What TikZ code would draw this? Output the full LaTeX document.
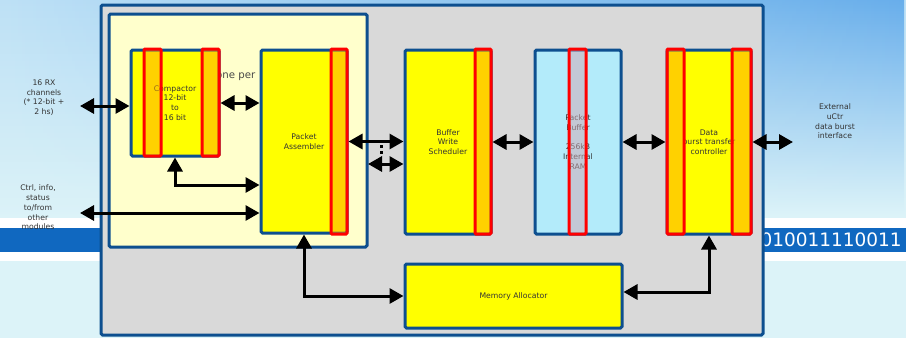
\documentclass[tikz,border=0pt]{standalone}
\usepackage{fontspec}
\setmainfont{DejaVu Sans}
\usetikzlibrary{arrows.meta,fadings}
\definecolor{bgl}{HTML}{DCF3F8}
\definecolor{bgd}{HTML}{68AEEB}
\definecolor{bgm}{HTML}{BEE1F6}
\definecolor{bandc}{HTML}{1068C0}
\definecolor{bord}{HTML}{0D4F8F}
\definecolor{grayf}{HTML}{D9D9D9}
\definecolor{pale}{HTML}{FFFFCC}
\definecolor{yel}{HTML}{FFFF00}
\definecolor{cyanf}{HTML}{B3EBFA}
\definecolor{txt}{HTML}{333333}
\definecolor{stripo}{HTML}{FFA500}
\definecolor{stripb}{HTML}{D3A7B2}
\tikzset{
  box/.style={draw=bord, line width=3pt, rounded corners=1.5pt, inner sep=0pt,
    align=center, font=\fontsize{7.7}{9.7}\selectfont, text=txt},
  ybox/.style={box, fill=yel},
  strip/.style={draw=red, line width=3pt, rounded corners=1pt, fill=stripo, fill opacity=0.5},
  dbl/.style={line width=3pt, {Triangle[length=14pt,width=15pt]}-{Triangle[length=14pt,width=15pt]}},
  lab/.style={align=center, font=\fontsize{7.7}{9.7}\selectfont, text=txt, inner sep=0pt}
}
\begin{document}
\begin{tikzpicture}[x=1pt,y=-1pt]
\useasboundingbox (0,0) rectangle (906,338);
% background
\fill[bgl] (0,0) rectangle (906,338);
\shade[top color=bgm, bottom color=bgl] (0,0) rectangle (906,215);
\shade[top color=bgd, bottom color=bgl, path fading=west] (0,0) rectangle (906,215);
% band
\fill[white] (0,218) rectangle (906,261);
\fill[bandc] (0,228) rectangle (906,252);
\node[anchor=base east, text=white, font=\fontsize{18.5}{20}\selectfont, inner sep=0pt] (bits) at (902,246) {0010011110011};
% frames
\node[box, fill=grayf, minimum width=662pt, minimum height=330pt] (outer) at (432,170) {};
\node[box, fill=pale, minimum width=258pt, minimum height=233pt] (inner) at (238,130.5) {};
\node[anchor=base west, font=\fontsize{10.2}{12}\selectfont, text=txt!90, inner sep=0pt] (oneper) at (216,78) {one per};
% blocks
\node[ybox, minimum width=88pt, minimum height=106pt] (comp) at (175,103) {Compactor\\12-bit\\to\\16 bit};
\node[ybox, minimum width=86pt, minimum height=183pt] (PA) at (304,141.5) {Packet\\Assembler};
\node[ybox, minimum width=86pt, minimum height=184pt] (BWS) at (448,142) {Buffer\\Write\\Scheduler};
\node[box, fill=cyanf, minimum width=86pt, minimum height=184pt] (PB) at (578,142) {Packet\\Buffer\\[9.7pt]256kB\\Internal\\RAM};
\node[ybox, minimum width=84pt, minimum height=184pt] (DBTC) at (709,142) {Data\\burst transfer\\controller};
\node[ybox, minimum width=217pt, minimum height=64pt] (MA) at (513.5,296) {Memory Allocator};
% strips
\draw[strip] (144,49) rectangle (161,156);
\draw[strip] (202,49) rectangle (219,156);
\draw[strip] (331,49) rectangle (347,234);
\draw[strip] (475,49) rectangle (491,234);
\draw[strip, fill=stripb] (569,49) rectangle (586,234);
\draw[strip] (667,49) rectangle (684,234);
\draw[strip] (732,49) rectangle (751,234);
% coordinates
\coordinate (rx) at (80,106);
\coordinate (ctrl) at (80,213);
\coordinate (ext) at (793,142);
\coordinate (pa2) at (368,164);
% arrows
\draw[dbl] (rx) -- (rx -| comp.west);
\draw[dbl] (comp.east) -- (comp.east -| PA.west);
\draw[dbl] (comp.south) |- ([yshift=-43.5pt]PA.west);
\draw[dbl] (ctrl) -- (ctrl -| PA.west);
\draw[dbl] (PA.east) -- (PA.east -| BWS.west);
\draw[dbl] (pa2) -- (pa2 -| BWS.west);
\fill (379.5,145) rectangle (382.5,148);
\fill (379.5,151) rectangle (382.5,154);
\draw[dbl] (BWS.east) -- (BWS.east -| PB.west);
\draw[dbl] (PB.east) -- (PB.east -| DBTC.west);
\draw[dbl] (DBTC.east) -- (ext);
\draw[dbl] (PA.south) |- (MA.west);
\draw[dbl] (DBTC.south) |- ([yshift=4pt]MA.east);
% outside labels
\node[lab] (rxl) at (44,97.5) {16 RX\\channels\\(* 12-bit +\\2 hs)};
\node[lab] (ctrll) at (38,207.5) {Ctrl, info,\\status\\to/from\\other\\modules};
\node[lab] (extl) at (835,121.5) {External\\uCtr\\data burst\\interface};
\end{tikzpicture}
\end{document}
